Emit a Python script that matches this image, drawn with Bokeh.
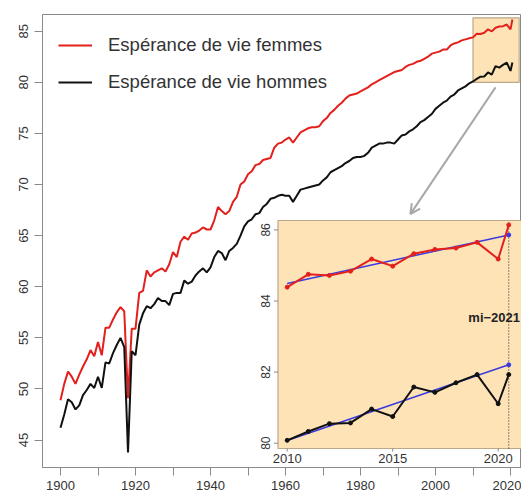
import numpy as np
from bokeh.plotting import figure
from bokeh.models import Range1d, FixedTicker, Legend, LegendItem, Arrow, OpenHead
from bokeh.core.properties import value
from bokeh.embed import file_html
from bokeh.resources import INLINE

# ---------------- data ----------------
years = list(range(1900, 2010))
women = [
    48.9, 50.5, 51.7, 51.2, 50.5, 51.4, 52.2, 52.9, 53.8, 53.2,
    54.6, 53.3, 56.0, 56.0, 56.8, 57.5, 58.0, 57.6, 49.1, 55.9,
    55.9, 59.4, 59.6, 61.6, 61.0, 61.4, 61.6, 61.8, 61.5, 62.2,
    63.4, 62.9, 64.4, 64.9, 64.6, 65.2, 65.3, 65.5, 65.8, 65.6,
    65.6, 66.5, 67.8, 67.4, 67.1, 67.4, 68.3, 68.8, 70.0, 70.3,
    71.0, 71.3, 71.9, 72.0, 72.4, 72.5, 72.6, 73.6, 74.0, 74.1,
    74.4, 74.6, 74.1, 74.6, 75.1, 75.3, 75.5, 75.6, 75.6, 75.7,
    76.2, 76.5, 77.0, 77.3, 77.7, 78.0, 78.4, 78.7, 78.8, 78.9,
    79.1, 79.3, 79.5, 79.8, 80.0, 80.2, 80.4, 80.6, 80.8, 81.0,
    81.1, 81.2, 81.5, 81.7, 81.8, 82.0, 82.1, 82.3, 82.5, 82.8,
    82.9, 83.0, 83.2, 83.2, 83.6, 83.8, 83.9, 84.1, 84.2, 84.3,
]
men = [
    46.2, 47.5, 49.0, 48.7, 48.0, 48.4, 49.4, 49.9, 50.5, 50.1,
    51.2, 50.1, 52.6, 52.5, 53.5, 54.3, 55.0, 54.1, 43.8, 53.7,
    53.3, 56.3, 57.4, 58.1, 57.9, 58.3, 58.9, 58.6, 58.6, 58.2,
    59.3, 59.4, 59.4, 60.6, 60.3, 60.5, 61.1, 61.5, 61.8, 61.4,
    61.9, 62.9, 63.5, 63.3, 62.6, 63.5, 63.8, 64.2, 65.0, 65.9,
    66.4, 66.6, 67.1, 67.2, 67.8, 68.1, 68.6, 68.7, 68.9, 69.0,
    68.9, 68.9, 68.3, 68.9, 69.5, 69.6, 69.7, 69.8, 69.9, 70.0,
    70.4, 70.7, 71.2, 71.4, 71.6, 71.8, 72.1, 72.3, 72.6, 72.7,
    72.7, 72.8, 73.1, 73.6, 73.8, 74.0, 74.0, 74.1, 74.1, 74.0,
    74.4, 74.8, 74.9, 75.2, 75.4, 75.7, 76.1, 76.3, 76.6, 76.9,
    77.4, 77.7, 78.0, 78.2, 78.6, 78.8, 79.2, 79.4, 79.6, 79.9,
]
zoom_years = [2010, 2011, 2012, 2013, 2014, 2015, 2016, 2017, 2018, 2019, 2020, 2020.5]
zoom_women = [84.39, 84.75, 84.72, 84.84, 85.18, 84.98, 85.33, 85.45, 85.49, 85.65, 85.18, 86.14]
zoom_men = [80.08, 80.33, 80.55, 80.57, 80.96, 80.75, 81.58, 81.43, 81.70, 81.93, 81.11, 81.93]
fit_n = 10  # trend fitted on 2010-2019, extended to mid-2021

x_ticks = list(range(1900, 2021, 10))
x_label_years = [1900, 1920, 1940, 1960, 1980, 2000, 2020]
y_ticks = [45, 50, 55, 60, 65, 70, 75, 80, 85]
inset_x_ticks = [2010, 2015, 2020]
inset_y_ticks = [80, 82, 84, 86]
zoom_window_x = [2010, 2022.3]
zoom_window_y = [80, 86.3]
mid_year = 2020.5
mid_label = "mi\u22122021"
label_f = "Espérance de vie femmes"
label_h = "Espérance de vie hommes"

# ---------------- styles / layout ----------------
FONT = "Liberation Sans"
RED = "#e3201c"
BLACK = "#111111"
BLUE = "#3a3adf"
GRAY = "#8a8a8a"
TXT = "#333333"
PEACH = "#fde3b6"
TAN = "#bba886"

# pixel anchors of the frame (page coordinates)
FL, FR, FT, FB = 42, 521, 14, 467
# inset scale anchors
IX_PX0, IX_PPU = 286.7, 21.1    # page x of 2010, px per year
IY_PX0, IY_PPU = 442.7, 35.55   # page y of 80, px per unit

ix_start = 2010 - (IX_PX0 - FL) / IX_PPU
ix_end = 2010 + (FR - IX_PX0) / IX_PPU
iy_start = 80 - (FB - IY_PX0) / IY_PPU
iy_end = 80 + (IY_PX0 - FT) / IY_PPU

def ixp(px):
    return 2010 + (px - IX_PX0) / IX_PPU

def iyp(py):
    return 80 + (IY_PX0 - py) / IY_PPU

p = figure(width=521, height=495, output_backend="svg", toolbar_location=None,
           x_range=Range1d(1895.2, 2022.93), y_range=Range1d(42.32, 86.63),
           min_border_left=FL, min_border_right=0, min_border_top=FT, min_border_bottom=495 - FB)
p.extra_x_ranges = {"ix": Range1d(ix_start, ix_end)}
p.extra_y_ranges = {"iy": Range1d(iy_start, iy_end)}
p.grid.visible = False
p.outline_line_color = GRAY
p.background_fill_color = "white"
p.border_fill_color = "white"

for ax in (p.xaxis[0], p.yaxis[0]):
    ax.axis_line_color = GRAY
    ax.major_tick_line_color = GRAY
    ax.major_tick_out = 8
    ax.major_tick_in = 0
    ax.minor_tick_line_color = None
    ax.major_label_text_font = FONT
    ax.major_label_text_font_size = "13px"
    ax.major_label_text_color = TXT
p.xaxis.ticker = FixedTicker(ticks=x_ticks)
p.xaxis.major_label_overrides = {t: (str(t) if t in x_label_years else "") for t in x_ticks}
p.xaxis.major_label_standoff = 5
p.yaxis.ticker = FixedTicker(ticks=y_ticks)
p.yaxis.major_label_orientation = "vertical"
p.yaxis.major_label_standoff = 6

# zoom window in main chart
p.quad(left=[zoom_window_x[0]], right=[zoom_window_x[1]], bottom=[zoom_window_y[0]],
       top=[zoom_window_y[1]], fill_color=PEACH, line_color=TAN, line_width=1.2)

all_years = years + zoom_years
r_w = p.line(all_years, women + zoom_women, line_color=RED, line_width=2)
r_m = p.line(all_years, men + zoom_men, line_color=BLACK, line_width=2)

legend = Legend(items=[LegendItem(label=label_f, renderers=[r_w]),
                       LegendItem(label=label_h, renderers=[r_m])],
                location="top_left", border_line_color=None, background_fill_alpha=0,
                label_text_font=FONT, label_text_font_size="18.5px", label_text_color=TXT,
                label_standoff=16, glyph_width=34, glyph_height=30, label_height=30,
                spacing=7, padding=0, margin=16)
p.add_layout(legend)

# arrow from zoom window to inset
arrow_col = "#a8a8a8"
p.add_layout(Arrow(end=OpenHead(size=10, line_color=arrow_col, line_width=2),
                   x_start=2016.0, y_start=79.5, x_end=1993.3, y_end=67.1,
                   line_color=arrow_col, line_width=2))

# ---------------- inset ----------------
R = dict(x_range_name="ix", y_range_name="iy")
box_l, box_r = ixp(277.5), ix_end + 1
box_b, box_t = iyp(448), iyp(220)
p.quad(left=[box_l], right=[box_r], bottom=[box_b], top=[box_t],
       fill_color=PEACH, line_color=TAN, line_width=1.2, **R)

# ticks
tl_x = 4 / IX_PPU
tl_y = 3 / IY_PPU
p.segment(x0=[box_l] * len(inset_y_ticks), x1=[box_l - tl_x] * len(inset_y_ticks),
          y0=inset_y_ticks, y1=inset_y_ticks, line_color=GRAY, line_width=1, **R)
p.segment(x0=inset_x_ticks, x1=inset_x_ticks, y0=[box_b] * len(inset_x_ticks),
          y1=[box_b - tl_y] * len(inset_x_ticks), line_color=GRAY, line_width=1, **R)
p.text(x=[ixp(265)] * len(inset_y_ticks), y=inset_y_ticks, text=[str(t) for t in inset_y_ticks],
       angle=np.pi / 2, text_align="center", text_baseline="middle",
       text_font=value(FONT), text_font_size="12px", text_color=TXT, **R)
p.text(x=inset_x_ticks, y=[iyp(458)] * len(inset_x_ticks), text=[str(t) for t in inset_x_ticks],
       text_align="center", text_baseline="middle",
       text_font=value(FONT), text_font_size="13px", text_color=TXT, **R)

# dotted mid-2021 line + label
p.segment(x0=[mid_year], x1=[mid_year], y0=[box_b], y1=[box_t], line_color="#222222",
          line_width=1, line_dash="1 2", **R)
p.text(x=[ixp(519.5)], y=[iyp(317)], text=[mid_label], text_align="right", text_baseline="middle",
       text_font=value(FONT), text_font_size="13px", text_font_style="bold", text_color="#222222", **R)

# trend lines
fx = np.array(zoom_years[:fit_n])
fit_ends = [zoom_years[0], zoom_years[-1]]
for ys in (zoom_women, zoom_men):
    k, b = np.polyfit(fx, np.array(ys[:fit_n]), 1)
    fy = [k * x + b for x in fit_ends]
    p.line(fit_ends, fy, line_color=BLUE, line_width=1.5, **R)
    p.scatter([fit_ends[1]], [fy[1]], size=4, color=BLUE, **R)

p.line(zoom_years, zoom_women, line_color=RED, line_width=2, **R)
p.scatter(zoom_years, zoom_women, size=4, color=RED, **R)
p.line(zoom_years, zoom_men, line_color=BLACK, line_width=2, **R)
p.scatter(zoom_years, zoom_men, size=4, color=BLACK, **R)

open("out.html", "w").write(file_html(p, INLINE))
